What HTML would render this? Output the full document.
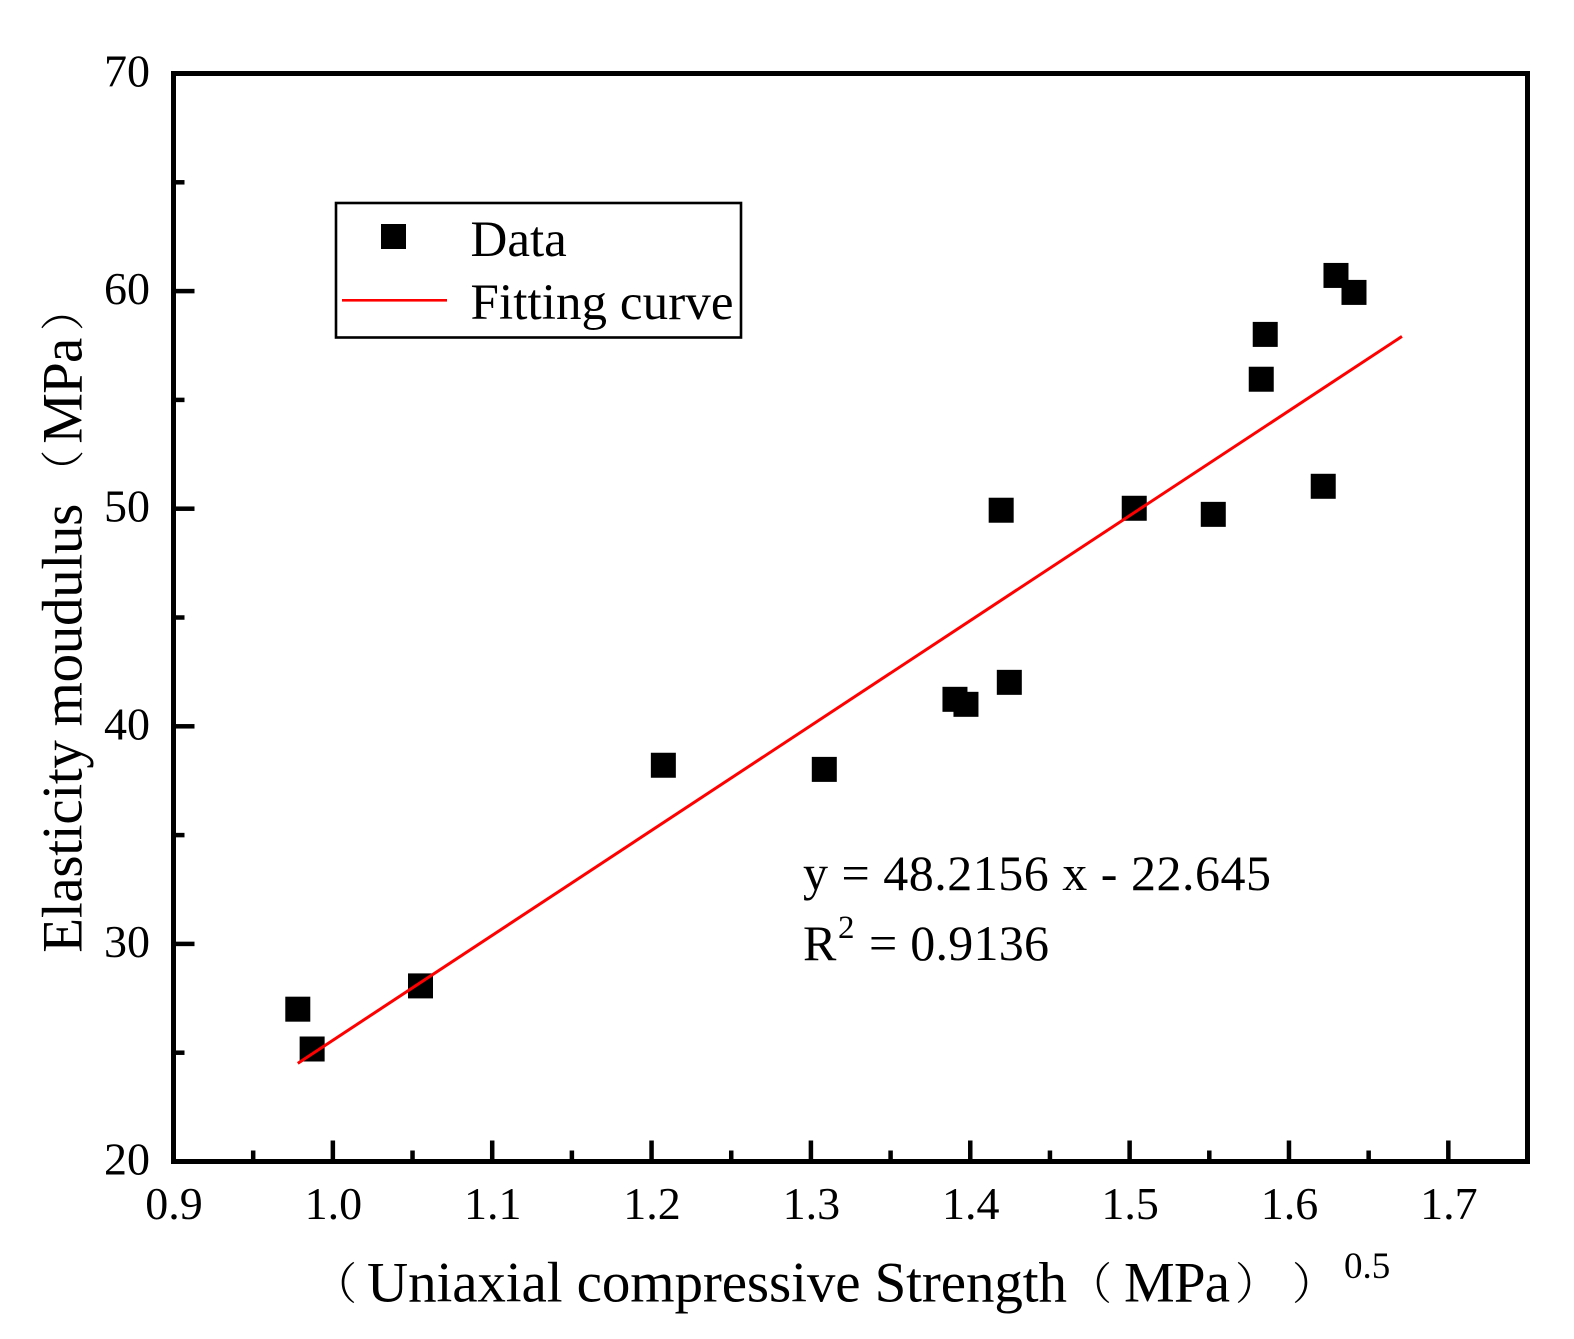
<!DOCTYPE html>
<html lang="en">
<head>
<meta charset="utf-8">
<title>Elasticity modulus vs uniaxial compressive strength</title>
<style>
html,body{margin:0;padding:0;background:#fff;}
svg{display:block;}
text{font-family:"Liberation Serif","Noto Serif CJK SC",serif;fill:#000;}
</style>
</head>
<body>
<svg id="chart" xmlns="http://www.w3.org/2000/svg" width="1574" height="1339" viewBox="0 0 1574 1339">
  <rect x="0" y="0" width="1574" height="1339" fill="#fff"/>
  <g id="ticks"></g>
  <g id="tick-labels"></g>
  <g id="points"></g>
  <path id="fit" fill="none" stroke="#ff0000" stroke-width="3"/>
  <rect x="173.5" y="73.5" width="1354" height="1088" fill="none" stroke="#000" stroke-width="5"/>

  <g>
    <rect x="336" y="203" width="405" height="134.5" fill="#fff" stroke="#000" stroke-width="2.6"/>
    <rect x="381" y="224" width="25" height="25" fill="#000"/>
    <text x="470.5" y="256" font-size="51">Data</text>
    <rect x="342" y="299" width="105" height="2.6" fill="#ff0000"/>
    <text x="470.5" y="319" font-size="51" textLength="263" lengthAdjust="spacing">Fitting curve</text>
  </g>

  <g>
    <text x="803" y="890" font-size="50" textLength="468" lengthAdjust="spacing">y = 48.2156 x - 22.645</text>
    <text x="803" y="960" font-size="50">R</text>
    <text x="838" y="938" font-size="33">2</text>
    <text x="869" y="960" font-size="50" textLength="180" lengthAdjust="spacing">= 0.9136</text>
  </g>

  <g>
    <text x="313" y="1299" font-size="44" font-weight="300">（</text>
    <text x="367" y="1301.5" font-size="57" textLength="700" lengthAdjust="spacing">Uniaxial compressive Strength</text>
    <text x="1068" y="1299" font-size="44" font-weight="300">（</text>
    <text x="1124" y="1301.5" font-size="57" textLength="106" lengthAdjust="spacing">MPa</text>
    <text x="1235" y="1299" font-size="44" font-weight="300">）</text>
    <text x="1292" y="1299" font-size="44" font-weight="300">）</text>
    <text x="1344" y="1278" font-size="37">0.5</text>
  </g>

  <g transform="translate(81.7,951.7) rotate(-90)">
    <text x="-1" y="0" font-size="57" textLength="449" lengthAdjust="spacing">Elasticity moudulus</text>
    <text x="458" y="-3" font-size="44" font-weight="300">（</text>
    <text x="508" y="0" font-size="57" textLength="106" lengthAdjust="spacing">MPa</text>
    <text x="620.7" y="-3" font-size="44" font-weight="300">）</text>
  </g>
</svg>

<script>
const xTickLabels = ['0.9','1.0','1.1','1.2','1.3','1.4','1.5','1.6','1.7'];
const yTickLabels = ['20','30','40','50','60','70'];
const xMinorTicks = [0.95,1.05,1.15,1.25,1.35,1.45,1.55,1.65];
const yMinorTicks = [25,35,45,55,65];
const dataX = [0.978,0.987,1.055,1.2074,1.3084,1.3904,1.3973,1.4194,1.4245,1.5029,1.5525,1.5826,1.5851,1.6215,1.6295,1.6408];
const dataY = [27.0,25.17,28.07,38.21,38.02,41.24,41.01,49.93,42.02,50.02,49.74,55.95,58.01,51.03,60.72,59.94];
const fitSlope = 48.2156;
const fitIntercept = -22.645;
const fitXStart = 0.978;
const fitXEnd = 1.6709;

const xDomain = [0.9, 1.75];
const yDomain = [20, 70];
const plotLeft = 173.5, plotRight = 1528, plotTop = 73.5, plotBottom = 1161.5;
const NS = 'http://www.w3.org/2000/svg';

function xScale(v){ return plotLeft + (v - xDomain[0]) / (xDomain[1] - xDomain[0]) * (plotRight - plotLeft); }
function yScale(v){ return plotBottom - (v - yDomain[0]) / (yDomain[1] - yDomain[0]) * (plotBottom - plotTop); }

const ticksGroup = document.getElementById('ticks');
const labelsGroup = document.getElementById('tick-labels');
const pointsGroup = document.getElementById('points');

function addRect(parent, x, y, w, h){
  const r = document.createElementNS(NS, 'rect');
  r.setAttribute('x', x);
  r.setAttribute('y', y);
  r.setAttribute('width', w);
  r.setAttribute('height', h);
  r.setAttribute('fill', '#000');
  parent.appendChild(r);
  return r;
}
function addLabel(txt, x, y, anchor){
  const t = document.createElementNS(NS, 'text');
  t.setAttribute('x', x);
  t.setAttribute('y', y);
  t.setAttribute('font-size', '46');
  t.setAttribute('text-anchor', anchor);
  t.textContent = txt;
  labelsGroup.appendChild(t);
  return t;
}

xTickLabels.forEach(function(lab){
  const v = parseFloat(lab);
  const px = xScale(v);
  const tick = addRect(ticksGroup, px - 2.25, plotBottom - 21, 4.5, 21);
  
  
  const t = addLabel(lab, px + 0.5, 1219, 'middle');
  
  
});
xMinorTicks.forEach(function(v){
  const tick = addRect(ticksGroup, xScale(v) - 2.25, plotBottom - 11, 4.5, 11);
  
  
});
yTickLabels.forEach(function(lab){
  const v = parseFloat(lab);
  const py = yScale(v);
  const tick = addRect(ticksGroup, plotLeft, py - 2.25, 21, 4.5);
  
  
  const t = addLabel(lab, 150, py + 13, 'end');
  
  
});
yMinorTicks.forEach(function(v){
  const tick = addRect(ticksGroup, plotLeft, yScale(v) - 2.25, 11, 4.5);
  
  
});

dataX.forEach(function(xv, i){
  const p = addRect(pointsGroup, xScale(xv) - 12.5, yScale(dataY[i]) - 12.5, 25, 25);
  
  
});

const fit = document.getElementById('fit');
fit.setAttribute('d',
  'M' + xScale(fitXStart) + ' ' + yScale(fitSlope * fitXStart + fitIntercept) +
  ' L' + xScale(fitXEnd) + ' ' + yScale(fitSlope * fitXEnd + fitIntercept));
</script>
</body>
</html>
